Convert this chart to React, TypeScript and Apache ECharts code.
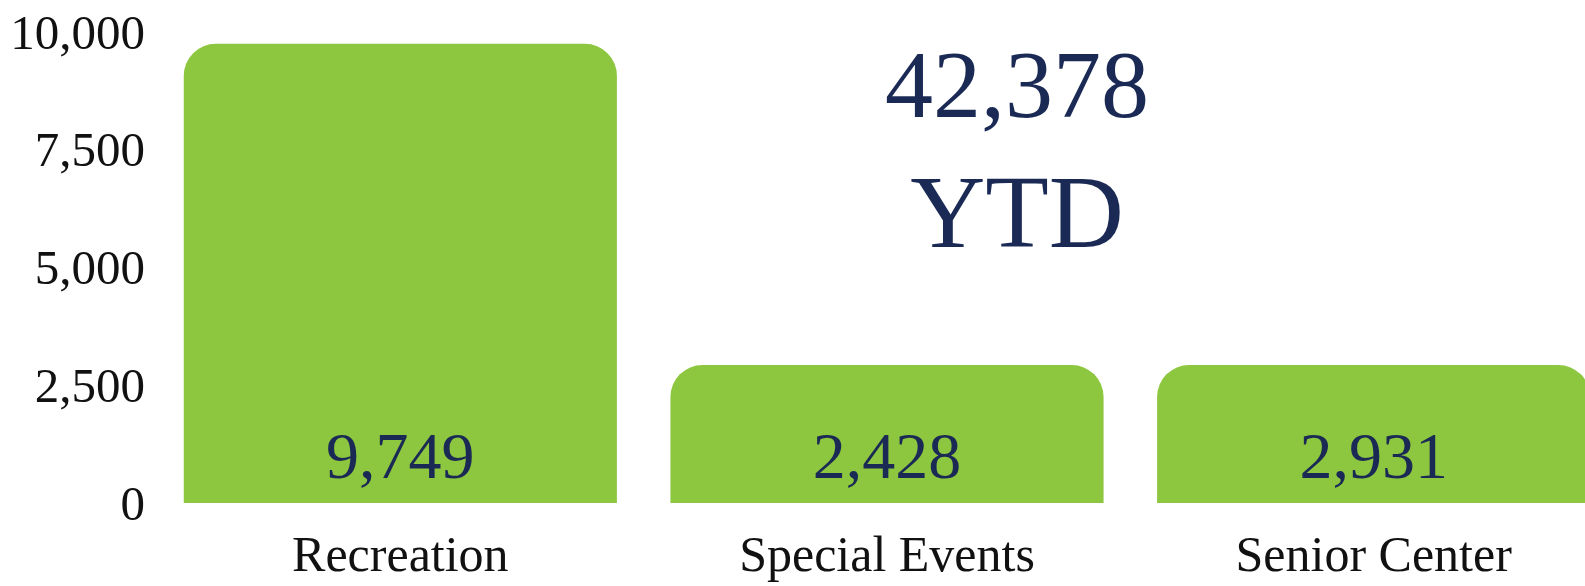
import React, { useEffect, useRef } from "react";
import * as echarts from "echarts";

const categories = ["Recreation", "Special Events", "Senior Center"];
// Bar heights as drawn in the picture
const barHeights = [9749, 2931, 2931];
// Value labels printed inside the bars
const valueLabels = ["9,749", "2,428", "2,931"];
const yTicks = [0, 2500, 5000, 7500, 10000];
const totalText = "42,378";
const totalSub = "YTD";

const FONT = "'Liberation Serif', 'DejaVu Serif', serif";
const NAVY = "#1b2a55";
const GREEN = "#8dc63f";

export default function App() {
  const ref = useRef<HTMLDivElement>(null);
  useEffect(() => {
    if (!ref.current) return;
    const chart = echarts.init(ref.current, null, { renderer: "svg" });
    chart.setOption({
      animation: false,
      backgroundColor: "#ffffff",
      grid: { left: 157, right: 3, top: 32, bottom: 83, containLabel: false },
      xAxis: {
        type: "category",
        data: categories,
        axisLine: { show: false },
        axisTick: { show: false },
        axisLabel: { color: "#111", fontFamily: FONT, fontSize: 50, margin: 26 },
      },
      yAxis: {
        type: "value",
        min: yTicks[0],
        max: yTicks[yTicks.length - 1],
        interval: 2500,
        splitLine: { show: false },
        axisLine: { show: false },
        axisTick: { show: false },
        axisLabel: {
          color: "#111",
          fontFamily: FONT,
          fontSize: 49,
          margin: 12,
          formatter: (v: number) => v.toLocaleString("en-US"),
        },
      },
      series: [
        {
          type: "bar",
          data: barHeights,
          barCategoryGap: "11%",
          itemStyle: { color: GREEN, borderRadius: [32, 32, 0, 0] },
          label: {
            show: true,
            position: "insideBottom",
            distance: 15,
            color: NAVY,
            fontFamily: FONT,
            fontSize: 66,
            formatter: (p: any) => valueLabels[p.dataIndex],
          },
        },
      ],
      graphic: [
        {
          type: "text",
          x: 1017,
          y: 84,
          style: {
            text: totalText,
            fill: NAVY,
            font: `96px ${FONT}`,
            textAlign: "center",
            textVerticalAlign: "middle",
          },
        },
        {
          type: "text",
          x: 1017,
          y: 211,
          style: {
            text: totalSub,
            fill: NAVY,
            font: `104px ${FONT}`,
            textAlign: "center",
            textVerticalAlign: "middle",
          },
        },
      ],
    });
    return () => chart.dispose();
  }, []);
  return (
    <div style={{ position: "absolute", left: 0, top: 0, width: 1585, height: 586, overflow: "hidden" }}>
      <div ref={ref} style={{ width: 1620, height: 586 }} />
    </div>
  );
}
